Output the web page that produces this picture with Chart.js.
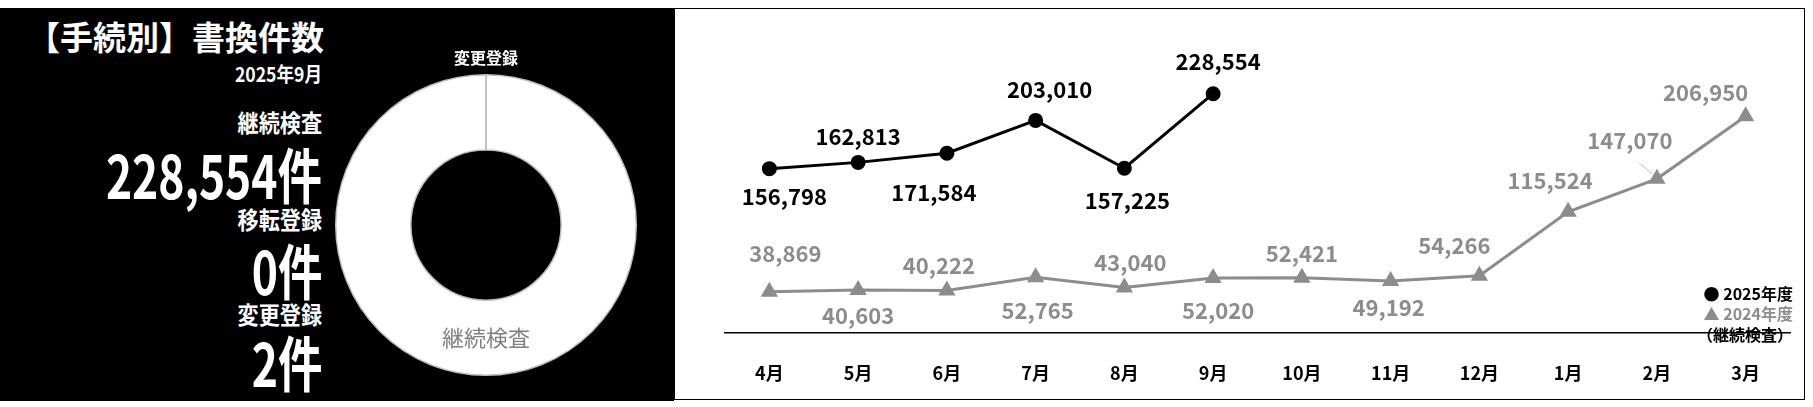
<!DOCTYPE html>
<html><head><meta charset="utf-8">
<script src="https://cdn.jsdelivr.net/npm/chart.js@4"></script>
<style>
body{margin:0;width:1813px;height:407px;background:#fff;position:relative;overflow:hidden;font-family:"Noto Sans CJK JP",sans-serif}
#left{position:absolute;left:0;top:8px;width:674px;height:393px;background:#000}
#right{position:absolute;left:674px;top:8px;width:1131px;height:392px;border:1px solid #000;box-sizing:border-box}
.t{position:absolute;right:352px;color:#fff;font-weight:bold;white-space:nowrap;line-height:1;transform:scaleX(.88);transform-origin:right center}
.big{font-size:60px;transform:scaleX(.74)}
#donutWrap{position:absolute;left:316px;top:30px;width:340px;height:356px}
#lineWrap{position:absolute;left:680px;top:10px;width:1120px;height:396px}
.lg{position:absolute;right:20px;font-weight:bold;font-size:16px;line-height:1;white-space:nowrap}
</style></head><body>
<div id="left">
  <div class="t" style="top:12px;font-size:33px;right:350px;transform:none">【手続別】書換件数</div>
  <div class="t" style="top:56px;font-size:20px">2025年9月</div>
  <div class="t" style="top:102px;font-size:24px">継続検査</div>
  <div class="t big" style="top:135px">228,554件</div>
  <div class="t" style="top:199px;font-size:24px">移転登録</div>
  <div class="t big" style="top:231px">0件</div>
  <div class="t" style="top:294px;font-size:24px">変更登録</div>
  <div class="t big" style="top:323px">2件</div>
  <div id="donutWrap"><canvas id="donut"></canvas></div>
</div>
<div id="right"></div>
<div id="lineWrap"><canvas id="line"></canvas></div>
<div class="lg" style="top:285px;color:#000">● 2025年度</div>
<div class="lg" style="top:305px;color:#8c8c8c">▲ 2024年度</div>
<div class="lg" style="top:326px;color:#000">（継続検査）</div>
<script>
// 手続別の件数
const procedures = ["継続検査", "移転登録", "変更登録"];
const procedureCounts = [228554, 0, 2];

// 月別
const months = ["4月","5月","6月","7月","8月","9月","10月","11月","12月","1月","2月","3月"];
const fy2025 = [156798, 162813, 171584, 203010, 157225, 228554];
const fy2024 = [38869, 40603, 40222, 52765, 43040, 52020, 52421, 49192, 54266, 115524, 147070, 206950];

// ラベルの位置ずらし (px)
const off2025 = [[15,28],[0,-26],[-13,39],[14,-31],[3,32],[5,-32]];
const off2024 = [[16,-38],[0,26],[-8,-25],[2,33],[6,-25],[5,33],[0,-24],[-2,27],[-25,-30],[-18,-31],[-27,-38],[-40,-24]];

const donutLabels = {
  id: 'donutLabels',
  afterDraw(chart) {
    const c = chart.ctx, a = chart.chartArea;
    const cx = (a.left + a.right) / 2, cy = (a.top + a.bottom) / 2;
    c.save();
    c.textAlign = 'center'; c.textBaseline = 'middle';
    c.fillStyle = '#fff'; c.font = 'bold 16px "Noto Sans CJK JP"';
    c.fillText(procedures[2], cx, 20);
    c.fillStyle = '#7f7f7f'; c.font = '22px "Noto Sans CJK JP"';
    c.fillText(procedures[0], cx, cy + 113);
    c.restore();
  }
};

new Chart(document.getElementById('donut'), {
  type: 'doughnut',
  data: {
    labels: procedures,
    datasets: [{
      data: procedureCounts,
      backgroundColor: ['#fff', '#fff', '#fff'],
      borderColor: '#bfbfbf',
      borderWidth: 1.5
    }]
  },
  options: {
    responsive: true, maintainAspectRatio: false, animation: false,
    cutout: '50%',
    layout: { padding: { top: 36, bottom: 18 } },
    plugins: { legend: { display: false }, tooltip: { enabled: false } }
  },
  plugins: [donutLabels]
});

const pointLabels = {
  id: 'pointLabels',
  afterDatasetsDraw(chart) {
    const c = chart.ctx;
    c.save();
    c.font = 'bold 22px "Noto Sans CJK JP"';
    c.textAlign = 'center'; c.textBaseline = 'middle';
    chart.data.datasets.forEach((ds, i) => {
      const offs = i === 0 ? off2025 : off2024;
      c.fillStyle = ds.borderColor;
      chart.getDatasetMeta(i).data.forEach((p, j) => {
        const [dx, dy] = offs[j];
        if (i === 1 && j === 10) {
          c.strokeStyle = '#bfbfbf'; c.lineWidth = 1;
          c.beginPath(); c.moveTo(p.x - 18, p.y - 16); c.lineTo(p.x - 3, p.y - 4); c.stroke();
        }
        c.fillText(ds.data[j].toLocaleString('en-US'), p.x + dx, p.y + dy);
      });
    });
    c.restore();
  }
};

new Chart(document.getElementById('line'), {
  type: 'line',
  data: {
    labels: months,
    datasets: [
      { label: '2025年度', data: fy2025, borderColor: '#000', backgroundColor: '#000',
        borderWidth: 3, pointRadius: 6, pointStyle: 'circle', tension: 0 },
      { label: '2024年度', data: fy2024, borderColor: '#8c8c8c', backgroundColor: '#8c8c8c',
        borderWidth: 3, pointRadius: 7, pointStyle: 'triangle', tension: 0 }
    ]
  },
  options: {
    responsive: true, maintainAspectRatio: false, animation: false,
    layout: { padding: { left: 45, right: 6, top: 30, bottom: 0 } },
    plugins: { legend: { display: false }, tooltip: { enabled: false } },
    scales: {
      x: {
        offset: true,
        grid: { display: false },
        border: { display: true, color: '#000', width: 1.5 },
        ticks: { color: '#000', padding: 22, font: { size: 18, weight: 'bold', family: '"Noto Sans CJK JP"' } }
      },
      y: { display: false, min: 0, max: 280000 }
    }
  },
  plugins: [pointLabels]
});
</script>
</body></html>
